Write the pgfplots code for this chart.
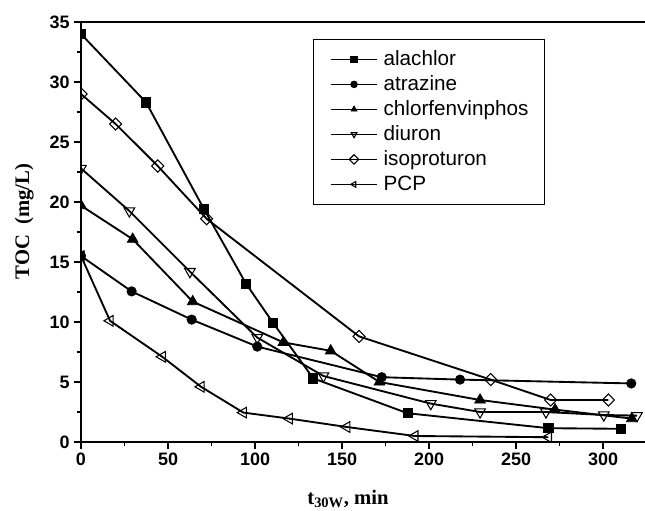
\documentclass[border=0pt]{standalone}
\usepackage{pgfplots}
\pgfplotsset{compat=1.18}
\usepackage{fontspec}
\setmainfont{Liberation Sans}
\newfontfamily\timesfont{Liberation Serif}
\begin{document}
\begin{tikzpicture}[x=1pt,y=1pt]
\useasboundingbox (0,0) rectangle (483.75,382.5);
\begin{axis}[
  at={(60.75pt,51pt)}, anchor=south west,
  scale only axis, width=423pt, height=315pt,
  xmin=0, xmax=324.1, ymin=0, ymax=35,
  axis x line=box, axis y line=left,
  x axis line style={-}, y axis line style={-},
  xtick={0,50,...,300}, ytick={0,5,...,35},
  minor xtick={25,75,...,325}, minor ytick={2.5,7.5,...,32.5},
  xtick pos=bottom, ytick pos=left,
  tick align=outside,
  major tick length=5pt, minor tick length=3pt,
  every tick/.style={black, line width=1pt},
  axis line style={line width=1.1pt},
  /pgf/number format/assume math mode=true,
  ticklabel style={font=\fontsize{13.5}{15}\selectfont\bfseries},
  xlabel={\timesfont\bfseries t\textsubscript{30W}, min},
  ylabel={\timesfont\bfseries TOC\ \ (mg/L)},
  every axis x label/.style={at={(axis description cs:0.393,-0.148)}, anchor=base west, font=\fontsize{15.5}{17}\selectfont},
  every axis y label/.style={at={(axis description cs:-0.092,0.525)}, rotate=90, anchor=base, font=\fontsize{15.5}{17}\selectfont},
  clip marker paths=true,
  every axis plot/.append style={black, line width=1.4pt},
  legend style={at={(axis description cs:0.412,0.959)}, anchor=north west,
    draw=black, line width=0.75pt, font=\fontsize{15.5}{17}\selectfont,
    inner xsep=12pt, inner ysep=7pt, row sep=3.25pt, column sep=4pt,
    nodes={inner sep=0pt, text height=12pt, text depth=3.5pt}},
  legend cell align=left,
  legend image code/.code={\draw[line width=1.3pt, mark repeat=2,mark phase=2,#1] plot coordinates {(0pt,0pt) (17.5pt,0pt) (35pt,0pt)};},
  legend image post style={mark size=2.5pt, line width=1.3pt},
]
\addplot[mark=square*, mark size=3.4pt, mark options={solid, fill=black, line width=0.6pt, scale=1}] coordinates {
(0,34) (37.4,28.3) (70.7,19.4) (94.8,13.2) (110.5,9.9) (133.5,5.3) (187.6,2.4) (268.6,1.15) (310.5,1.1)};
\addlegendentry{alachlor}
\addplot[mark=*, mark size=3.5pt, mark options={solid, fill=black, line width=0.6pt}] coordinates {
(0,15.5) (29.1,12.55) (63.6,10.2) (101.3,7.95) (172.8,5.4) (217.8,5.2) (316.2,4.88)};
\addlegendentry{atrazine}
\addplot[mark=triangle*, mark size=4.6pt, mark options={solid, fill=black, line width=0.6pt}] coordinates {
(0,19.7) (29.7,16.9) (64.2,11.7) (116.3,8.3) (143.5,7.6) (171.5,5.0) (229.3,3.5) (272.4,2.7) (316.5,1.95)};
\addlegendentry{chlorfenvinphos}
\addplot[mark=triangle, mark size=4.6pt, mark options={solid, fill=white, rotate=180, line width=0.8pt}] coordinates {
(0,22.8) (27.8,19.25) (62.6,14.2) (101.3,8.7) (139.3,5.5) (201,3.2) (229.3,2.5) (267.2,2.5) (300.4,2.25) (319.5,2.2)};
\addlegendentry{diuron}
\addplot[mark=square, mark size=3.2pt, mark options={solid, fill=white, rotate=45, line width=0.8pt}] coordinates {
(0,29) (19.9,26.5) (44.1,23.0) (72.2,18.6) (159.8,8.8) (235.4,5.2) (269.9,3.5) (303,3.5)};
\addlegendentry{isoproturon}
\addplot[mark=triangle, mark size=4.6pt, mark options={solid, fill=white, rotate=90, line width=0.8pt}] coordinates {
(0,15.5) (16.7,10.1) (46.7,7.1) (69,4.6) (93.3,2.45) (119.7,1.95) (152.7,1.25) (191.9,0.5) (268.6,0.4)};
\addlegendentry{PCP}
\end{axis}
\end{tikzpicture}
\end{document}
